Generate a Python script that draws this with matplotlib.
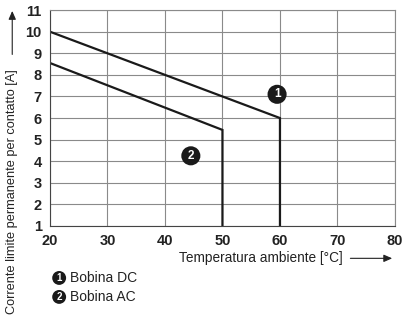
import matplotlib
matplotlib.use("Agg")
import matplotlib.pyplot as plt

plt.rcParams["font.family"] = ["Liberation Sans", "DejaVu Sans"]

# derating curves: temperature [°C] vs. current [A]
dc_temp = [20, 60, 60]
dc_current = [10, 6, 1]
ac_temp = [20, 50, 50]
ac_current = [8.55, 5.45, 1]

x_ticks = [20, 30, 40, 50, 60, 70, 80]
y_ticks = [1, 2, 3, 4, 5, 6, 7, 8, 9, 10, 11]

curve_tags = ["1", "2"]
curve_names = ["Bobina DC", "Bobina AC"]
tag_pos = [(59.5, 7.1), (44.5, 4.25)]

fig = plt.figure(figsize=(4.08, 3.27), dpi=100)
ax = fig.add_axes([0.1225, 0.309, 0.8455, 0.66])

ax.plot(dc_temp, dc_current, color="#1a1a1a", lw=1.6, solid_joinstyle="miter")
ax.plot(ac_temp, ac_current, color="#1a1a1a", lw=1.6, solid_joinstyle="miter")

for tag, (tx, ty) in zip(curve_tags, tag_pos):
    ax.text(tx, ty, tag, ha="center", va="center", color="white", fontsize=8.5,
            fontweight="bold",
            bbox=dict(boxstyle="circle,pad=0.3", fc="#1a1a1a", ec="none"))

ax.set_xlim(20, 80)
ax.set_ylim(1, 11)
ax.set_xticks(x_ticks)
ax.set_yticks(y_ticks)
ax.grid(True, color="#8a8a8a", lw=0.8)
ax.tick_params(length=0, pad=6, labelsize=10.5, labelcolor="#222222")
for lbl in ax.get_xticklabels() + ax.get_yticklabels():
    lbl.set_fontweight("bold")
for s in ax.spines.values():
    s.set_color("#8a8a8a")
    s.set_linewidth(0.8)
ax.spines["left"].set_color("#444444")
ax.spines["bottom"].set_color("#444444")

arrow = "-|>,head_length=5,head_width=2.2"

# axis titles with arrows
fig.text(0.64, 0.21, "Temperatura ambiente [°C]", ha="center", va="center",
         fontsize=9.8, color="#222222")
fig.add_artist(matplotlib.patches.FancyArrowPatch(
    (0.852, 0.21), (0.968, 0.21), transform=fig.transFigure,
    arrowstyle=arrow, color="#222222", lw=0.8))

fig.text(0.03, 0.415, "Corrente limite permanente per contatto [A]", ha="center",
         va="center", rotation=90, fontsize=9.2, color="#222222")
fig.add_artist(matplotlib.patches.FancyArrowPatch(
    (0.03, 0.825), (0.03, 0.975), transform=fig.transFigure,
    arrowstyle=arrow, color="#222222", lw=0.8))

# legend
for i, (tag, name) in enumerate(zip(curve_tags, curve_names)):
    yy = 0.15 - i * 0.058
    fig.text(0.145, yy, tag, ha="center", va="center", color="white",
             fontsize=7, fontweight="bold",
             bbox=dict(boxstyle="circle,pad=0.2", fc="#1a1a1a", ec="none"))
    fig.text(0.172, yy, name, ha="left", va="center", fontsize=10,
             color="#222222")

fig.savefig("out.png", dpi=100)
